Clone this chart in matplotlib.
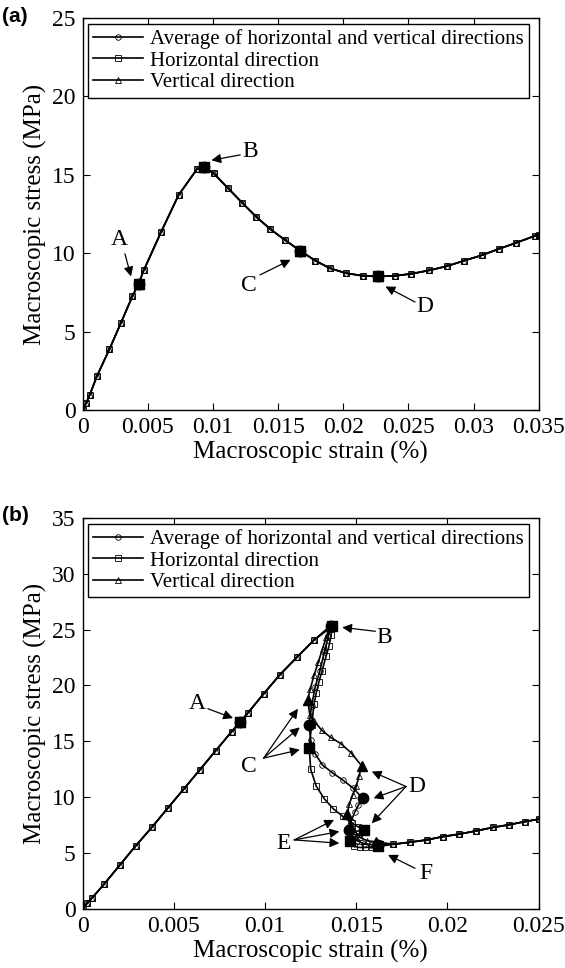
import numpy as np
import matplotlib.pyplot as plt

plt.rcParams['font.family'] = ['Liberation Serif', 'DejaVu Serif']

# -------------------------------------------------------------
# (a) uniaxial response - the three directions coincide
# -------------------------------------------------------------
strain_a = [0, 0.00025, 0.00053, 0.0011, 0.00205, 0.00293, 0.00382, 0.00429,
            0.00468, 0.00603, 0.00736, 0.00877, 0.00932, 0.01004, 0.01115,
            0.01226, 0.01331, 0.01441, 0.01552, 0.01666, 0.01785, 0.01895,
            0.0202, 0.0215, 0.02269, 0.02399, 0.02523, 0.02656, 0.02794,
            0.0293, 0.03063, 0.03196, 0.03326, 0.03469, 0.035]
stress_a = [0, 0.42, 0.95, 2.18, 3.88, 5.55, 7.27, 8.05,
            8.90, 11.38, 13.71, 15.36, 15.47, 15.11, 14.15,
            13.2, 12.33, 11.53, 10.85, 10.17, 9.53, 9.05,
            8.73, 8.56, 8.52, 8.56, 8.69, 8.90, 9.17,
            9.53, 9.87, 10.28, 10.66, 11.10, 11.17]
keys_a_idx = [7, 12, 19, 24]
keys_a_names = ['A', 'B', 'C', 'D']

# -------------------------------------------------------------
# (b) biaxial response
# -------------------------------------------------------------
load_strain = [0, 0.00024, 0.00053, 0.00117, 0.00204, 0.0029, 0.0038, 0.00466,
               0.00555, 0.00642, 0.00729, 0.00816, 0.0086, 0.00905, 0.00992,
               0.01081, 0.01176, 0.01267]
load_stress = [0, 0.51, 1.02, 2.21, 3.94, 5.64, 7.32, 9.02,
               10.75, 12.45, 14.16, 15.86, 16.69, 17.53, 19.26,
               20.96, 22.55, 24.04]
load_A_idx = 12

avg_strain = [0.01362, 0.01347, 0.01325, 0.01300, 0.01275, 0.01255, 0.01241,
              0.01250, 0.01274, 0.01314, 0.01368, 0.01425, 0.01484, 0.01535,
              0.01512, 0.01493, 0.01472, 0.01460, 0.01478, 0.01505, 0.01540,
              0.01580, 0.01620]
avg_stress = [25.3, 24.4, 23.0, 21.3, 19.9, 18.2, 16.5,
              15.1, 13.9, 12.9, 12.2, 11.55, 10.8, 9.9,
              9.3, 8.7, 7.9, 7.1, 6.6, 6.1, 5.85,
              5.75, 5.75]
avg_keys = [0, 6, 13, 17, 22]   # B, C, D, E, F

hor_strain = [0.01368, 0.01362, 0.01350, 0.01334, 0.01312, 0.01295, 0.01280,
              0.01268, 0.01255, 0.01242, 0.01250, 0.01280, 0.01325, 0.01375,
              0.01425, 0.01475, 0.01510, 0.01542, 0.01515, 0.01490, 0.01466,
              0.01485, 0.01520, 0.01550, 0.01585, 0.01620]
hor_stress = [25.3, 24.5, 23.5, 22.6, 21.3, 20.3, 19.3,
              18.3, 16.5, 14.4, 12.5, 11.0, 9.85, 8.95,
              8.3, 7.7, 7.35, 7.1, 6.7, 6.4, 6.1,
              5.6, 5.5, 5.5, 5.55, 5.6]
hor_keys = [0, 9, 17, 20, 25]

ver_strain = [0.01355, 0.01335, 0.01315, 0.01292, 0.01268, 0.01248, 0.01233,
              0.01245, 0.01270, 0.01310, 0.01360, 0.01415, 0.01470, 0.01530,
              0.01515, 0.01500, 0.01480, 0.01462, 0.01450, 0.01465, 0.01490,
              0.01520, 0.01560, 0.01610]
ver_stress = [25.3, 24.3, 23.3, 22.1, 20.9, 19.7, 18.7,
              17.4, 16.8, 16.0, 15.35, 14.8, 14.0, 12.8,
              11.9, 11.0, 10.2, 9.4, 8.5, 7.8, 7.0,
              6.4, 6.1, 6.0]
ver_keys = [0, 6, 13, 18, 23]

tail_strain = [0.01704, 0.01793, 0.01887, 0.01976, 0.02063, 0.02158,
               0.02247, 0.02336, 0.02425, 0.025]
tail_stress = [5.79, 5.97, 6.18, 6.48, 6.69, 6.99, 7.29, 7.53, 7.82, 8.03]

xticks_a = [0, 0.005, 0.01, 0.015, 0.02, 0.025, 0.03, 0.035]
xticklabels_a = ['0', '0.005', '0.01', '0.015', '0.02', '0.025', '0.03', '0.035']
yticks_a = [0, 5, 10, 15, 20, 25]
xticks_b = [0, 0.005, 0.01, 0.015, 0.02, 0.025]
xticklabels_b = ['0', '0.005', '0.01', '0.015', '0.02', '0.025']
yticks_b = [0, 5, 10, 15, 20, 25, 30, 35]

legend_labels = ['Average of horizontal and vertical directions',
                 'Horizontal direction', 'Vertical direction']
markers = ['o', 's', '^']

small = dict(color='k', lw=1.2, ms=4.0, mfc='none', mec='k', mew=0.6)
big = dict(color='k', ls='none', ms=7.5, mfc='k', mec='k')
arrow = dict(arrowstyle='-|>', color='k', lw=0.9, mutation_scale=14,
             shrinkA=0, shrinkB=0)


def style_axes(ax, xticks, xticklabels, yticks):
    ax.set_xticks(xticks)
    ax.set_xticklabels(xticklabels)
    ax.set_yticks(yticks)
    ax.set_xlim(xticks[0], xticks[-1])
    ax.set_ylim(yticks[0], yticks[-1])
    ax.tick_params(direction='in', top=True, right=True, length=5,
                   width=0.8, labelsize=17, pad=5)
    for s in ax.spines.values():
        s.set_linewidth(1.0)
    ax.set_xlabel('Macroscopic strain (%)', fontsize=18, labelpad=2)
    ax.set_ylabel('Macroscopic stress (MPa)', fontsize=18, labelpad=4)
    leg = ax.legend(loc='upper left', bbox_to_anchor=(0.012, 0.985),
                    fontsize=15, frameon=True, fancybox=False,
                    edgecolor='k', framealpha=1, handlelength=2.4,
                    handletextpad=0.3, labelspacing=0.1, borderpad=0.25,
                    borderaxespad=0)
    leg.get_frame().set_linewidth(1.0)


fig = plt.figure(figsize=(5.65, 9.68), dpi=100)

# ---------------- (a) ----------------
ax = fig.add_axes([0.1464, 0.5764, 0.807, 0.405])
for m, lab in zip(markers, legend_labels):
    ax.plot(strain_a, stress_a, marker=m, label=lab, **small)
for m in markers:
    ax.plot([strain_a[i] for i in keys_a_idx], [stress_a[i] for i in keys_a_idx],
            marker=m, **big)
style_axes(ax, xticks_a, xticklabels_a, yticks_a)

ax.annotate('', xy=(0.00371, 8.52), xytext=(0.00324, 9.96), arrowprops=arrow)
ax.text(0.00282, 10.9, 'A', fontsize=17, ha='center', va='center')
ax.annotate('', xy=(0.00988, 15.93), xytext=(0.01209, 16.27), arrowprops=arrow)
ax.text(0.01284, 16.5, 'B', fontsize=17, ha='center', va='center')
ax.annotate('', xy=(0.01596, 9.58), xytext=(0.01361, 8.62), arrowprops=arrow)
ax.text(0.01273, 7.94, 'C', fontsize=17, ha='center', va='center')
ax.annotate('', xy=(0.02324, 7.88), xytext=(0.02551, 6.89), arrowprops=arrow)
ax.text(0.02628, 6.61, 'D', fontsize=17, ha='center', va='center')

fig.text(0.004, 0.993, '(a)', fontsize=15, fontweight='bold',
         family=['Liberation Sans', 'DejaVu Sans'], ha='left', va='top')

# ---------------- (b) ----------------
ax = fig.add_axes([0.1464, 0.061, 0.807, 0.404])
series_b = [(avg_strain, avg_stress, avg_keys),
            (hor_strain, hor_stress, hor_keys),
            (ver_strain, ver_stress, ver_keys)]
for (xs, ys, keys), m, lab in zip(series_b, markers, legend_labels):
    x_full = load_strain + xs + tail_strain
    y_full = load_stress + ys + tail_stress
    ax.plot(x_full, y_full, marker=m, label=lab, **small)
for (xs, ys, keys), m in zip(series_b, markers):
    ax.plot([load_strain[load_A_idx]] + [xs[i] for i in keys],
            [load_stress[load_A_idx]] + [ys[i] for i in keys], marker=m, **big)
style_axes(ax, xticks_b, xticklabels_b, yticks_b)

ax.annotate('', xy=(0.00824, 17.08), xytext=(0.00686, 17.92), arrowprops=arrow)
ax.text(0.00626, 18.43, 'A', fontsize=17, ha='center', va='center')
ax.annotate('', xy=(0.01423, 25.2), xytext=(0.01605, 24.85), arrowprops=arrow)
ax.text(0.01654, 24.31, 'B', fontsize=17, ha='center', va='center')
for tip in [(0.0118, 17.92), (0.0119, 16.25), (0.0119, 14.25)]:
    ax.annotate('', xy=tip, xytext=(0.00992, 13.5), arrowprops=arrow)
ax.text(0.00913, 12.75, 'C', fontsize=17, ha='center', va='center')
for tip in [(0.01585, 12.3), (0.01595, 9.91), (0.01585, 7.67)]:
    ax.annotate('', xy=tip, xytext=(0.01773, 10.96), arrowprops=arrow)
ax.text(0.01832, 10.96, 'D', fontsize=17, ha='center', va='center')
for tip in [(0.01378, 7.97), (0.01407, 6.93), (0.01407, 5.88)]:
    ax.annotate('', xy=tip, xytext=(0.0116, 6.18), arrowprops=arrow)
ax.text(0.01101, 5.88, 'E', fontsize=17, ha='center', va='center')
ax.annotate('', xy=(0.01674, 4.84), xytext=(0.01822, 3.64), arrowprops=arrow)
ax.text(0.01881, 3.2, 'F', fontsize=17, ha='center', va='center')

fig.text(0.004, 0.477, '(b)', fontsize=15, fontweight='bold',
         family=['Liberation Sans', 'DejaVu Sans'], ha='left', va='top')

fig.savefig('out.png', dpi=100)
